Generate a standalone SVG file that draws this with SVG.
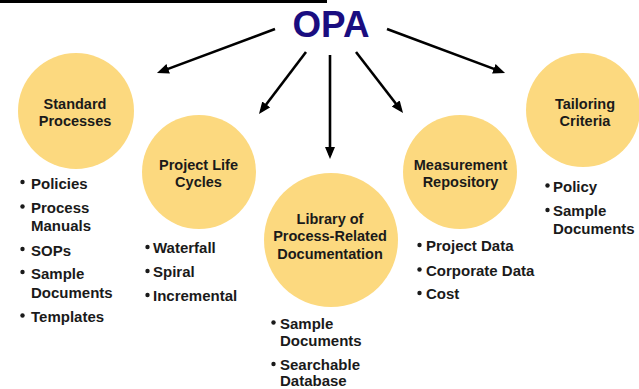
<svg xmlns="http://www.w3.org/2000/svg" width="639" height="389" viewBox="0 0 639 389">
<style>
.c{fill:#FCD97F}
.lbl{font-family:"Liberation Sans",Arial,sans-serif;font-weight:bold;font-size:14.5px;fill:#1a1a1a;text-anchor:middle}
.li{font-family:"Liberation Sans",Arial,sans-serif;font-weight:bold;font-size:15px;fill:#1a1a1a}
.b{fill:#1a1a1a}
.a{stroke:#000;stroke-width:2.6;fill:none;marker-end:url(#ah)}
</style>
<defs>
<marker id="ah" markerUnits="userSpaceOnUse" markerWidth="13" markerHeight="11" refX="8" refY="5" orient="auto">
<path d="M0,0 L12,5 L0,10 z" fill="#000"/>
</marker>
</defs>
<rect x="0" y="0" width="327" height="3" fill="#000"/>
<g id="opa">
<text x="331" y="37" font-family="'Liberation Sans',Arial,sans-serif" font-weight="bold" font-size="37" fill="#1a0d80" text-anchor="middle" textLength="77" lengthAdjust="spacingAndGlyphs">OPA</text>
</g>
<g id="connectors">
<line class="a" x1="275" y1="29" x2="160.7" y2="71.6"/>
<line class="a" x1="306" y1="52" x2="261.4" y2="110.8"/>
<line class="a" x1="330" y1="55" x2="330" y2="155"/>
<line class="a" x1="356" y1="52" x2="400.6" y2="109.8"/>
<line class="a" x1="387" y1="29" x2="501.3" y2="71.6"/>
</g>
<g id="standard">
<circle class="c" cx="76" cy="111" r="58"/>
<text class="lbl" x="75" y="108.5">Standard</text>
<text class="lbl" x="75" y="125.5">Processes</text>
<circle class="b" cx="22.5" cy="182" r="2.2"/><text class="li" x="31" y="188.5">Policies</text>
<circle class="b" cx="22.5" cy="206.5" r="2.2"/><text class="li" x="31" y="213">Process</text>
<text class="li" x="31" y="230.5">Manuals</text>
<circle class="b" cx="22.5" cy="249" r="2.2"/><text class="li" x="31" y="255.5">SOPs</text>
<circle class="b" cx="22.5" cy="272" r="2.2"/><text class="li" x="31" y="278.5">Sample</text>
<text class="li" x="31" y="297.5">Documents</text>
<circle class="b" cx="22.5" cy="315.5" r="2.2"/><text class="li" x="31" y="322">Templates</text>
</g>
<g id="lifecycles">
<circle class="c" cx="199" cy="172" r="57"/>
<text class="lbl" x="198.5" y="169.5">Project Life</text>
<text class="lbl" x="198.5" y="187">Cycles</text>
<circle class="b" cx="147.5" cy="247" r="2.2"/><text class="li" x="153" y="252.5">Waterfall</text>
<circle class="b" cx="147.5" cy="271" r="2.2"/><text class="li" x="153" y="276.5">Spiral</text>
<circle class="b" cx="147.5" cy="295" r="2.2"/><text class="li" x="153" y="300.5">Incremental</text>
</g>
<g id="library">
<circle class="c" cx="331" cy="240" r="67"/>
<text class="lbl" x="330" y="223.5">Library of</text>
<text class="lbl" x="330" y="241">Process-Related</text>
<text class="lbl" x="330" y="259">Documentation</text>
<circle class="b" cx="273.5" cy="322.5" r="2.2"/><text class="li" x="280" y="328.5">Sample</text>
<text class="li" x="280" y="345.5">Documents</text>
<circle class="b" cx="273.5" cy="364" r="2.2"/><text class="li" x="280" y="370">Searchable</text>
<text class="li" x="280" y="386">Database</text>
</g>
<g id="measurement">
<circle class="c" cx="460" cy="172" r="57"/>
<text class="lbl" x="460.5" y="170">Measurement</text>
<text class="lbl" x="460.5" y="187">Repository</text>
<circle class="b" cx="419.5" cy="245" r="2.2"/><text class="li" x="426" y="251">Project Data</text>
<circle class="b" cx="419.5" cy="269.5" r="2.2"/><text class="li" x="426" y="275.5">Corporate Data</text>
<circle class="b" cx="419.5" cy="293" r="2.2"/><text class="li" x="426" y="299">Cost</text>
</g>
<g id="tailoring">
<circle class="c" cx="583" cy="110" r="57"/>
<text class="lbl" x="585" y="108.5">Tailoring</text>
<text class="lbl" x="585" y="126">Criteria</text>
<circle class="b" cx="547.5" cy="185.5" r="2.2"/><text class="li" x="553" y="191.5">Policy</text>
<circle class="b" cx="547.5" cy="210" r="2.2"/><text class="li" x="553" y="216">Sample</text>
<text class="li" x="553" y="233.5">Documents</text>
</g>
</svg>
